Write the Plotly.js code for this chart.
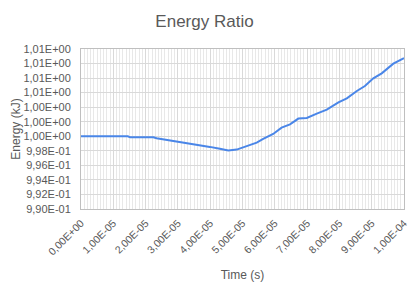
<!DOCTYPE html>
<html>
<head>
<meta charset="utf-8">
<script src="https://cdn.plot.ly/plotly-3.0.1.min.js"></script>
<style>html,body{margin:0;padding:0;background:#fff;}#chart{width:409px;height:287px;}</style>
</head>
<body>
<div id="chart"></div>
<script>
const timeValues = [0, 1.45e-5, 1.52e-5, 2.24e-5, 2.34e-5, 2.65e-5, 2.96e-5, 3.37e-5, 3.68e-5, 3.99e-5, 4.30e-5, 4.56e-5, 4.82e-5, 5.13e-5, 5.44e-5, 5.64e-5, 5.95e-5, 6.21e-5, 6.47e-5, 6.73e-5, 6.99e-5, 7.30e-5, 7.61e-5, 7.97e-5, 8.23e-5, 8.54e-5, 8.79e-5, 9.05e-5, 9.31e-5, 9.67e-5, 9.93e-5, 1.0e-4];
const energyValues = [1.0000, 1.0000, 0.99986, 0.99986, 0.99972, 0.99950, 0.99936, 0.99903, 0.99881, 0.99854, 0.99827, 0.99803, 0.99817, 0.99862, 0.99913, 0.99964, 1.00032, 1.00119, 1.00164, 1.00243, 1.00252, 1.00311, 1.00366, 1.00466, 1.00521, 1.00623, 1.00691, 1.00796, 1.00865, 1.00998, 1.01062, 1.01075];
const xTickVals = [0, 1e-5, 2e-5, 3e-5, 4e-5, 5e-5, 6e-5, 7e-5, 8e-5, 9e-5, 1e-4];
const xTickText = ["0,00E+00", "1,00E-05", "2,00E-05", "3,00E-05", "4,00E-05", "5,00E-05", "6,00E-05", "7,00E-05", "8,00E-05", "9,00E-05", "1,00E-04"];
const yTickVals = [0.990, 0.992, 0.994, 0.996, 0.998, 1.000, 1.002, 1.004, 1.006, 1.008, 1.010, 1.012];
const yTickText = ["9,90E-01", "9,92E-01", "9,94E-01", "9,96E-01", "9,98E-01", "1,00E+00", "1,00E+00", "1,00E+00", "1,01E+00", "1,01E+00", "1,01E+00", "1,01E+00"];

const font = "Liberation Sans, Arial, sans-serif";
const trace = {
  x: timeValues, y: energyValues, type: "scatter", mode: "lines",
  line: {color: "#4a86e8", width: 2}, hoverinfo: "skip", cliponaxis: false
};
const layout = {
  width: 409, height: 287,
  margin: {l: 81, r: 5, t: 49, b: 78},
  paper_bgcolor: "#ffffff", plot_bgcolor: "#ffffff",
  showlegend: false,
  font: {family: font, color: "#595959", size: 11},
  title: {text: "Energy Ratio", font: {family: font, size: 17, color: "#595959"}, x: 0.5, xanchor: "center", y: 0.925, yanchor: "middle"},
  xaxis: {
    range: [0, 1.00002e-4], tickmode: "array", tickvals: xTickVals, ticktext: xTickText,
    tickangle: -45, tickfont: {size: 10.5, color: "#595959"}, ticklabelstandoff: 3,
    ticklabeloverflow: "allow",
    showgrid: true, gridcolor: "#d9d9d9", gridwidth: 1,
    minor: {dtick: 1e-6, showgrid: true, gridcolor: "#e8e8e8", gridwidth: 1},
    showline: true, linecolor: "#bfbfbf", linewidth: 1, mirror: true,
    zeroline: false, ticks: "",
    title: {text: "Time (s)", font: {size: 12, color: "#595959"}, standoff: 14}
  },
  yaxis: {
    range: [0.990, 1.012], tickmode: "array", tickvals: yTickVals, ticktext: yTickText,
    tickfont: {size: 11, color: "#595959"},
    showgrid: true, gridcolor: "#d9d9d9", gridwidth: 1,
    showline: true, linecolor: "#bfbfbf", linewidth: 1, mirror: true,
    zeroline: false, ticks: "", ticklabelstandoff: 7,
    title: {text: "Energy (kJ)", font: {size: 12, color: "#595959"}, standoff: 0}
  }
};
Plotly.newPlot("chart", [trace], layout, {staticPlot: true, displayModeBar: false});
</script>
</body>
</html>
